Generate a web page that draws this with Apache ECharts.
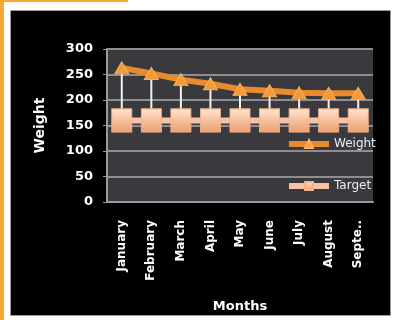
<!DOCTYPE html>
<html>
<head>
<meta charset="utf-8">
<script src="https://cdn.jsdelivr.net/npm/echarts@6/dist/echarts.min.js"></script>
<style>
  html, body { margin: 0; padding: 0; background: #ffffff; }
  #chart { width: 394px; height: 320px; }
</style>
</head>
<body>
<div id="chart"></div>
<script>
// Monthly weight against a fixed target
const months = ['January', 'February', 'March', 'April', 'May', 'June', 'July', 'August', 'September'];
const weight = [263, 252, 240, 232, 221, 218, 214, 213, 213];
const target = [160, 160, 160, 160, 160, 160, 160, 160, 160];
const yTicks = [0, 50, 100, 150, 200, 250, 300];

const chart = echarts.init(document.getElementById('chart'));
const FONT = 'DejaVu Sans';

// long month names are shortened to fit under the axis
const shortMonth = m => (m.length > 8 ? m.slice(0, 5) + '..' : m);

chart.setOption({
  backgroundColor: '#ffffff',
  animation: false,
  graphic: [
    { type: 'rect', left: 0, top: 0, shape: { width: 4, height: 320 }, style: { fill: '#f7a832' }, z: 0 },
    { type: 'rect', left: 0, top: 0, shape: { width: 128, height: 2 }, style: { fill: '#f7a832' }, z: 0 },
    { type: 'rect', left: 10, top: 10, shape: { width: 380, height: 305 },
      style: { fill: '#000000', stroke: '#9a9a9a', lineWidth: 1 }, z: -1 }
  ],
  grid: {
    left: 107, right: 21, top: 49, bottom: 118,
    show: true, backgroundColor: '#3a3a3e', borderWidth: 0
  },
  legend: {
    orient: 'vertical',
    left: 281, top: 133,
    itemGap: 30,
    itemWidth: 40, itemHeight: 10,
    lineStyle: { width: 6 },
    textStyle: { color: '#e8eef6', fontFamily: FONT, fontSize: 12 },
    data: ['Weight', 'Target']
  },
  xAxis: {
    type: 'category',
    data: months,
    name: 'Months',
    nameLocation: 'middle',
    nameGap: 98,
    nameTextStyle: { color: '#ffffff', fontFamily: FONT, fontWeight: 'bold', fontSize: 13 },
    axisLine: { lineStyle: { color: '#9a9a9a', width: 2 } },
    axisTick: { show: false },
    axisLabel: {
      rotate: 90, margin: 18, color: '#ffffff',
      fontFamily: FONT, fontWeight: 'bold', fontSize: 12,
      formatter: shortMonth
    }
  },
  yAxis: {
    type: 'value',
    min: 0, max: 300, interval: 50,
    name: 'Weight',
    nameLocation: 'middle',
    nameGap: 60,
    nameTextStyle: { color: '#ffffff', fontFamily: FONT, fontWeight: 'bold', fontSize: 14 },
    axisLine: { show: true, lineStyle: { color: '#9a9a9a', width: 2 } },
    axisTick: { show: true, length: 4, lineStyle: { color: '#9a9a9a' } },
    axisLabel: {
      color: '#ffffff', fontFamily: FONT, fontWeight: 'bold', fontSize: 13, margin: 14,
      formatter: v => (yTicks.indexOf(v) >= 0 ? String(v) : '')
    },
    splitLine: { lineStyle: { color: '#8e8e92', width: 2 } }
  },
  series: [
    {
      // white drop lines from target up to the weight
      type: 'custom',
      name: 'drop',
      z: 2,
      data: weight.map((w, i) => [i, w, target[i]]),
      renderItem: (params, api) => {
        const top = api.coord([api.value(0), api.value(1)]);
        const bot = api.coord([api.value(0), api.value(2)]);
        return {
          type: 'line',
          shape: { x1: top[0], y1: top[1], x2: bot[0], y2: bot[1] },
          style: { stroke: '#f4f0ec', lineWidth: 2 }
        };
      },
      silent: true
    },
    {
      name: 'Target',
      type: 'line',
      data: target,
      z: 3,
      symbol: 'rect',
      symbolSize: [20, 23],
      lineStyle: { color: '#f6c3a6', width: 6 },
      itemStyle: {
        color: new echarts.graphic.LinearGradient(0, 0, 0, 1, [
          { offset: 0, color: '#fde6d2' },
          { offset: 1, color: '#ee9c6c' }
        ]),
        borderColor: '#f2b28c', borderWidth: 1
      }
    },
    {
      name: 'Weight',
      type: 'line',
      data: weight,
      z: 4,
      symbol: 'triangle',
      symbolSize: [14, 12],
      lineStyle: { color: '#e98a2c', width: 6 },
      itemStyle: { color: '#f39a3a', borderColor: '#f7b060', borderWidth: 1 }
    }
  ]
});
</script>
</body>
</html>
